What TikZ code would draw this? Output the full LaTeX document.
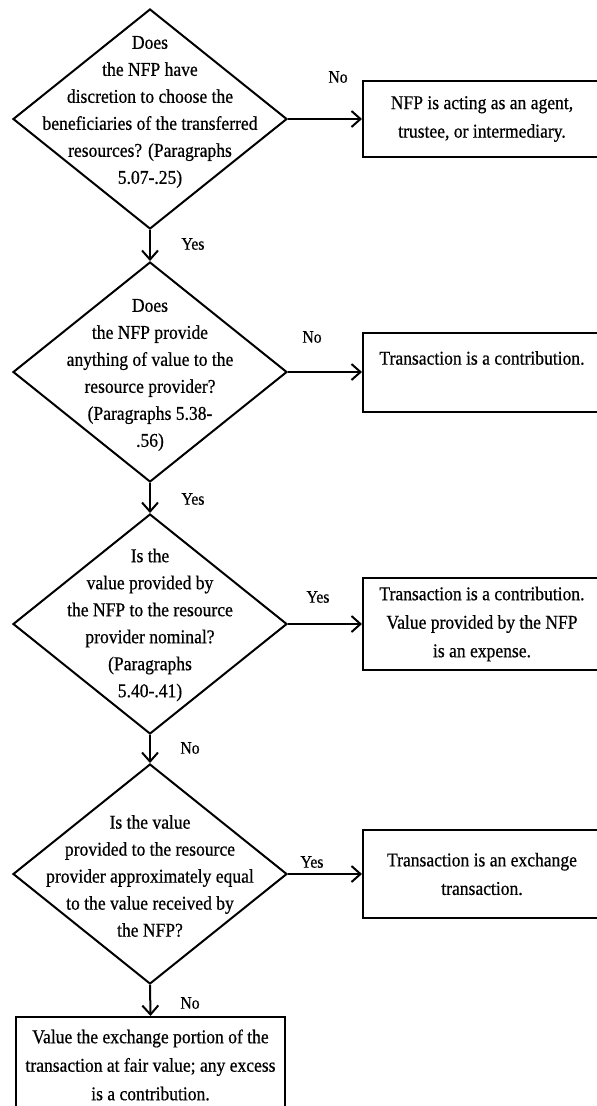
\documentclass[tikz,border=0pt]{standalone}
\usepackage{fontspec}
\setmainfont[FakeStretch=0.9,FakeBold=0.6]{Liberation Serif}
\usetikzlibrary{shapes.geometric,arrows.meta}
\begin{document}
\begin{tikzpicture}[x=1pt,y=-1pt,
 dia/.style={diamond,draw,line width=2pt,minimum width=274pt,minimum height=220pt,inner sep=0pt},
 qtext/.style={align=center,font=\fontsize{19.5}{27}\selectfont,inner sep=0pt},
 box/.style={draw,line width=2pt,inner sep=0pt,align=center,font=\fontsize{19.5}{28.5}\selectfont},
 lbl/.style={font=\fontsize{17.5}{20}\selectfont,inner sep=0pt},
 arr/.style={line width=2pt,-{Straight Barb[length=9pt,width=16pt,line width=2pt]}}
]
\useasboundingbox (0,0) rectangle (597,1106);

% decisions
\node[dia] (d1) at (150,119) {};
\node[qtext] (t1) at (150,112) {Does\\the NFP have\\discretion to choose the\\beneficiaries of the transferred\\resources? (Paragraphs\\5.07-.25)};
\node[dia] (d2) at (150,372) {};
\node[qtext] (t2) at (150,375) {Does\\the NFP provide\\anything of value to the\\resource provider?\\(Paragraphs 5.38-\\.56)};
\node[dia] (d3) at (150,624) {};
\node[qtext] (t3) at (150,625) {Is the\\value provided by\\the NFP to the resource\\provider nominal?\\(Paragraphs\\5.40-.41)};
\node[dia] (d4) at (150,874) {};
\node[qtext] (t4) at (150,876) {Is the value\\provided to the resource\\provider approximately equal\\to the value received by\\the NFP?};

% outcomes
\node[box,minimum width=238pt,minimum height=76pt] (b1) at (482,119) {NFP is acting as an agent,\\trustee, or intermediary.};
\node[box,minimum width=238pt,minimum height=79pt] (b2) at (482,372) {};
\node[inner sep=0pt,font=\fontsize{19.5}{28.5}\selectfont] (b2t) at (482,358) {Transaction is a contribution.};
\node[box,minimum width=238pt,minimum height=92pt] (b3) at (482,624) {Transaction is a contribution.\\Value provided by the NFP\\is an expense.};
\node[box,minimum width=238pt,minimum height=88pt] (b4) at (482,874) {Transaction is an exchange\\transaction.};
\node[box,minimum width=269pt,minimum height=96pt] (b5) at (150.5,1065) {Value the exchange portion of the\\transaction at fair value; any excess\\is a contribution.};

% connectors
\draw[arr] (d1.south) -- (d2.north);
\draw[arr] (d2.south) -- (d3.north);
\draw[arr] (d3.south) -- (d4.north);
\draw[arr] (d4.south) -- (b5.north);
\draw[arr] (d1.east) -- (b1.west);
\draw[arr] (d2.east) -- (b2.west);
\draw[arr] (d3.east) -- (b3.west);
\draw[arr] (d4.east) -- (b4.west);

% labels
\node[lbl] (l1) at (338,77) {No};
\node[lbl] (l2) at (193,244) {Yes};
\node[lbl] (l3) at (312,337) {No};
\node[lbl] (l4) at (193,499) {Yes};
\node[lbl] (l5) at (318,597) {Yes};
\node[lbl] (l6) at (190,748) {No};
\node[lbl] (l7) at (312,862) {Yes};
\node[lbl] (l8) at (190,1003) {No};
\end{tikzpicture}
\end{document}
